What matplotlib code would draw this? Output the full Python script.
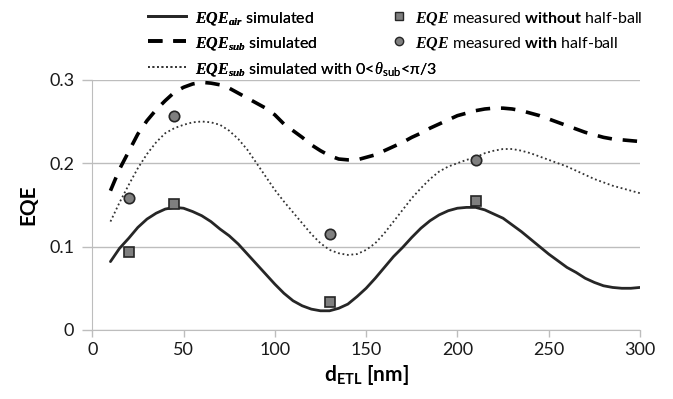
import matplotlib
matplotlib.use("Agg")
import matplotlib.pyplot as plt
from matplotlib.lines import Line2D

plt.rcParams['font.family'] = ['Lato', 'DejaVu Sans']
plt.rcParams['mathtext.fontset'] = 'custom'
plt.rcParams['mathtext.rm'] = 'Lato'
plt.rcParams['mathtext.it'] = 'Liberation Serif:italic:bold'
plt.rcParams['mathtext.bf'] = 'Lato:bold'
plt.rcParams['mathtext.sf'] = 'Liberation Serif:italic'

# thickness of the ETL [nm]
d = [10, 15, 20, 25, 30, 35, 40, 45, 50, 55, 60, 65, 70, 75, 80, 85, 90, 95, 100,
     105, 110, 115, 120, 125, 130, 135, 140, 145, 150, 155, 160, 165, 170, 175, 180,
     185, 190, 195, 200, 205, 210, 215, 220, 225, 230, 235, 240, 245, 250, 255, 260,
     265, 270, 275, 280, 285, 290, 295, 300]
eqe_air = [0.082, 0.098, 0.110, 0.123, 0.133, 0.140, 0.145, 0.147, 0.146, 0.142,
           0.137, 0.130, 0.121, 0.113, 0.103, 0.091, 0.079, 0.067, 0.055, 0.044,
           0.035, 0.029, 0.025, 0.023, 0.023, 0.026, 0.031, 0.040, 0.050, 0.062,
           0.075, 0.088, 0.099, 0.111, 0.122, 0.131, 0.138, 0.143, 0.146, 0.147,
           0.147, 0.144, 0.139, 0.134, 0.126, 0.118, 0.109, 0.100, 0.091, 0.083,
           0.075, 0.069, 0.062, 0.057, 0.053, 0.051, 0.050, 0.050, 0.051]
eqe_sub = [0.167, 0.193, 0.214, 0.235, 0.251, 0.264, 0.275, 0.285, 0.291, 0.295,
           0.297, 0.296, 0.294, 0.290, 0.284, 0.278, 0.272, 0.266, 0.258, 0.247,
           0.239, 0.231, 0.222, 0.215, 0.209, 0.205, 0.204, 0.204, 0.207, 0.210,
           0.215, 0.220, 0.225, 0.231, 0.236, 0.242, 0.247, 0.252, 0.257, 0.260,
           0.263, 0.265, 0.266, 0.266, 0.265, 0.263, 0.260, 0.257, 0.253, 0.249,
           0.245, 0.241, 0.237, 0.234, 0.231, 0.229, 0.228, 0.227, 0.226]
eqe_sub60 = [0.130, 0.153, 0.174, 0.194, 0.211, 0.225, 0.236, 0.242, 0.246, 0.249,
             0.250, 0.249, 0.246, 0.239, 0.229, 0.216, 0.200, 0.184, 0.168, 0.154,
             0.141, 0.128, 0.115, 0.104, 0.096, 0.092, 0.090, 0.091, 0.096, 0.104,
             0.116, 0.130, 0.144, 0.158, 0.170, 0.181, 0.190, 0.196, 0.200, 0.204,
             0.207, 0.212, 0.215, 0.217, 0.217, 0.215, 0.212, 0.208, 0.204, 0.200,
             0.196, 0.191, 0.186, 0.181, 0.177, 0.173, 0.170, 0.167, 0.164]

d_meas = [20, 45, 130, 210]
meas_without = [0.094, 0.151, 0.034, 0.155]
meas_with = [0.158, 0.256, 0.115, 0.204]

fig = plt.figure(figsize=(6.73, 3.99), dpi=100)
ax = fig.add_axes([0.137, 0.173, 0.814, 0.627])

ax.plot(d, eqe_air, color='#262626', lw=2.0, solid_capstyle='round')
ax.plot(d, eqe_sub, color='black', lw=2.6, linestyle=(0, (4, 3)))
ax.plot(d, eqe_sub60, color='#333333', lw=1.3, linestyle=(0, (1, 1.5)))
ax.plot(d_meas, meas_without, 's', color='#7f7f7f', mec='#262626', mew=1.2, ms=7.5)
ax.plot(d_meas, meas_with, 'o', color='#7f7f7f', mec='#262626', mew=1.2, ms=7.5)

ax.set_xlim(0, 300)
ax.set_ylim(0, 0.3)
ax.set_xticks([0, 50, 100, 150, 200, 250, 300])
ax.set_yticks([0, 0.1, 0.2, 0.3])
ax.set_yticklabels(['0', '0.1', '0.2', '0.3'])
ax.yaxis.grid(True, color='#bdbdbd', lw=1.0)
ax.set_axisbelow(True)
for s in ['top', 'right']:
    ax.spines[s].set_visible(False)
for s in ['left', 'bottom']:
    ax.spines[s].set_color('#bdbdbd')
ax.tick_params(axis='both', colors='#bdbdbd', labelcolor='#1a1a1a',
               labelsize=13, length=5, width=1.0)
ax.tick_params(axis='y', length=7, pad=6)

ax.set_xlabel(r'd$_{\mathbf{ETL}}$ [nm]', fontsize=15, fontweight='bold', labelpad=4)
ax.set_ylabel('EQE', fontsize=15, fontweight='bold', labelpad=8)

h1 = [Line2D([], [], color='#262626', lw=2.0),
      Line2D([], [], color='black', lw=2.6, linestyle=(0, (4, 3))),
      Line2D([], [], color='#333333', lw=1.3, linestyle=(0, (1, 1.5)))]
l1 = [r'$\mathit{EQE_{air}}$ simulated',
      r'$\mathit{EQE_{sub}}$ simulated',
      r'$\mathit{EQE_{sub}}$ simulated with 0<$\mathsf{\theta}_{\mathrm{sub}}$<π/3']
h2 = [Line2D([], [], marker='s', ls='', color='#7f7f7f', mec='#262626', mew=1.0, ms=6),
      Line2D([], [], marker='o', ls='', color='#7f7f7f', mec='#262626', mew=1.0, ms=6)]
l2 = [r'$\mathit{EQE}$ measured $\mathbf{without}$ half-ball',
      r'$\mathit{EQE}$ measured $\mathbf{with}$ half-ball']

leg1 = fig.legend(h1, l1, loc='upper left', bbox_to_anchor=(0.205, 1.0), frameon=False,
                  fontsize=11.5, handlelength=2.4, handletextpad=0.6,
                  labelspacing=0.5, borderaxespad=0.2)
fig.add_artist(leg1)
fig.legend(h2, l2, loc='upper left', bbox_to_anchor=(0.567, 1.0), frameon=False,
           fontsize=11.5, handlelength=1.0, handletextpad=0.5,
           labelspacing=0.5, borderaxespad=0.2)

fig.savefig('out.png', dpi=100)
